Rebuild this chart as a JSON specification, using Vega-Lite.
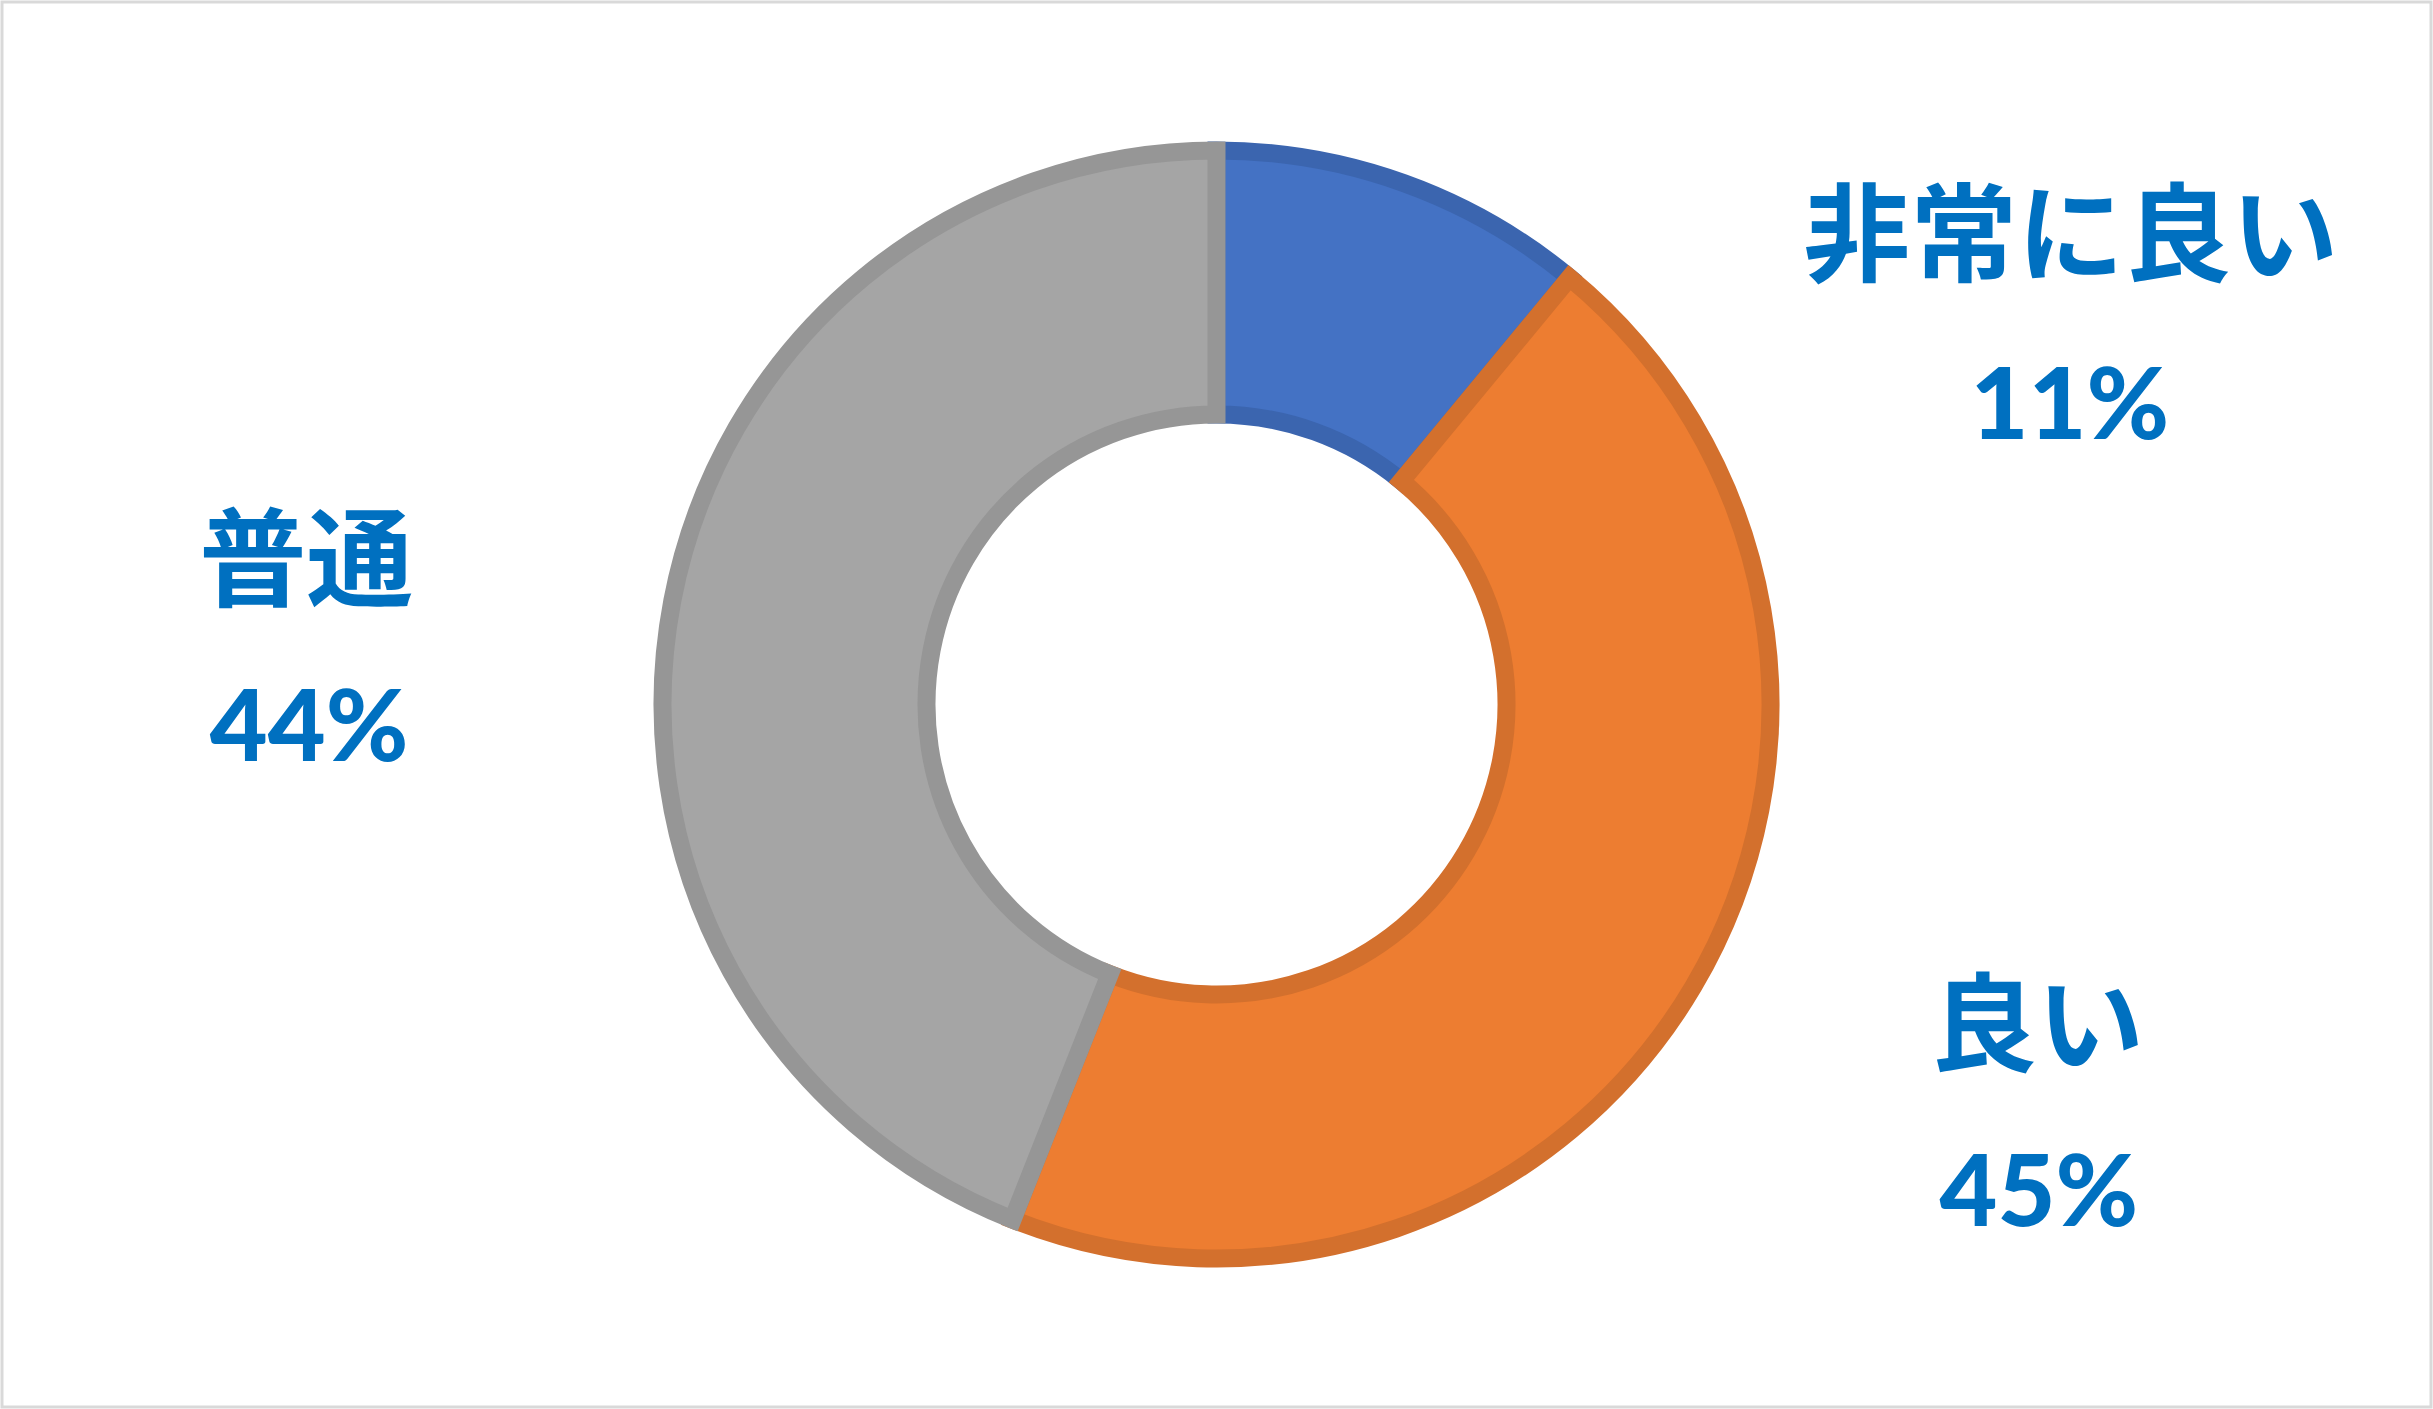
{
  "$schema": "https://vega.github.io/schema/vega-lite/v6.json",
  "width": 2433,
  "height": 1409,
  "autosize": {"type": "fit", "contains": "padding"},
  "padding": 0,
  "background": "white",
  "config": {"view": {"stroke": null}},
  "data": {
    "values": [
      {"category": "非常に良い", "value": 0.11, "order": 1},
      {"category": "良い", "value": 0.45, "order": 2},
      {"category": "普通", "value": 0.44, "order": 3}
    ]
  },
  "layer": [
    {
      "data": {"values": [{"frame": 1}]},
      "mark": {"type": "rect", "fill": "transparent", "stroke": "#D9D9D9", "strokeWidth": 3},
      "encoding": {}
    },
    {
      "encoding": {
        "theta": {"field": "value", "type": "quantitative", "stack": true},
        "order": {"field": "order", "type": "quantitative"}
      },
      "layer": [
        {
          "mark": {"type": "arc", "outerRadius": 554, "innerRadius": 290, "strokeWidth": 18},
          "encoding": {
            "color": {
              "field": "category",
              "type": "nominal",
              "scale": {"domain": ["非常に良い", "良い", "普通"], "range": ["#4472C4", "#ED7D31", "#A5A5A5"]},
              "legend": null
            },
            "stroke": {
              "field": "category",
              "type": "nominal",
              "scale": {"domain": ["非常に良い", "良い", "普通"], "range": ["#3B65AF", "#D3702D", "#969696"]},
              "legend": null
            }
          }
        },
        {
          "mark": {"type": "text", "radius": 600, "dx": 651, "dy": 101, "font": "Noto Sans CJK JP", "fontWeight": "bold", "fontSize": 107, "color": "#0070C0", "align": "center", "baseline": "middle"},
          "encoding": {"text": {"condition": {"test": "datum.category === '非常に良い'", "field": "category"}, "value": ""}}
        },
        {
          "mark": {"type": "text", "radius": 600, "dx": 650, "dy": 269, "font": "Lato", "fontWeight": 900, "fontSize": 100, "color": "#0070C0", "align": "center", "baseline": "middle"},
          "encoding": {"text": {"condition": {"test": "datum.category === '非常に良い'", "field": "value", "type": "quantitative", "format": ".0%"}, "value": ""}}
        },
        {
          "mark": {"type": "text", "radius": 600, "dx": 304, "dy": 21, "font": "Noto Sans CJK JP", "fontWeight": "bold", "fontSize": 107, "color": "#0070C0", "align": "center", "baseline": "middle"},
          "encoding": {"text": {"condition": {"test": "datum.category === '良い'", "field": "category"}, "value": ""}}
        },
        {
          "mark": {"type": "text", "radius": 600, "dx": 306, "dy": 186, "font": "Lato", "fontWeight": 900, "fontSize": 100, "color": "#0070C0", "align": "center", "baseline": "middle"},
          "encoding": {"text": {"condition": {"test": "datum.category === '良い'", "field": "value", "type": "quantitative", "format": ".0%"}, "value": ""}}
        },
        {
          "mark": {"type": "text", "radius": 600, "dx": -321, "dy": -26, "font": "Noto Sans CJK JP", "fontWeight": "bold", "fontSize": 107, "color": "#0070C0", "align": "center", "baseline": "middle"},
          "encoding": {"text": {"condition": {"test": "datum.category === '普通'", "field": "category"}, "value": ""}}
        },
        {
          "mark": {"type": "text", "radius": 600, "dx": -318, "dy": 139, "font": "Lato", "fontWeight": 900, "fontSize": 100, "color": "#0070C0", "align": "center", "baseline": "middle"},
          "encoding": {"text": {"condition": {"test": "datum.category === '普通'", "field": "value", "type": "quantitative", "format": ".0%"}, "value": ""}}
        }
      ]
    }
  ]
}
